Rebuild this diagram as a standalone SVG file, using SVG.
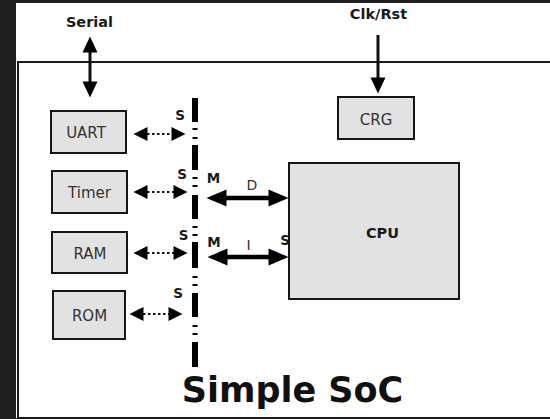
<svg xmlns="http://www.w3.org/2000/svg" width="550" height="419" viewBox="0 0 550 419">
<style>
.box{fill:#e2e2e2;stroke:#151515;stroke-width:2}
.lbl{font-family:"DejaVu Sans",sans-serif;font-size:15px;fill:#333;text-anchor:middle}
.port{font-family:"DejaVu Sans",sans-serif;font-weight:bold;font-size:13.5px;fill:#1a1a1a;text-anchor:middle}
.ext{font-family:"DejaVu Sans",sans-serif;font-weight:bold;font-size:14.5px;fill:#1a1a1a;text-anchor:middle}
.title{font-family:"DejaVu Sans",sans-serif;font-weight:bold;font-size:35px;fill:#111;text-anchor:middle}
.dot{stroke:#111;stroke-width:2;stroke-dasharray:2.5 2.5;fill:none}
.thick{stroke:#000;stroke-width:4.5;fill:none}
.sig{stroke:#111;stroke-width:3;fill:none}
.bus{fill:#000}
</style>
<defs>
<marker id="hd" markerUnits="userSpaceOnUse" markerWidth="15" markerHeight="14" refX="0.5" refY="7" orient="auto-start-reverse" overflow="visible"><path d="M0,0 L14,7 L0,14 z" fill="#000"/></marker>
<marker id="hb" markerUnits="userSpaceOnUse" markerWidth="21" markerHeight="17" refX="0.5" refY="8.5" orient="auto-start-reverse" overflow="visible"><path d="M0,0 L20,8.5 L0,17 z" fill="#000"/></marker>
<marker id="hs" markerUnits="userSpaceOnUse" markerWidth="17" markerHeight="15" refX="0.5" refY="7.5" orient="auto-start-reverse" overflow="visible"><path d="M0,0 L16,7.5 L0,15 z" fill="#000"/></marker>
</defs>
<rect x="0" y="0" width="550" height="419" fill="#1f1f1f"/>
<rect x="16" y="3" width="534" height="415" fill="#fff"/>
<rect id="soc" x="18" y="62" width="540" height="356" fill="none" stroke="#1a1a1a" stroke-width="2"/>

<text class="ext" x="89.5" y="27">Serial</text>
<text class="ext" x="378.5" y="19">Clk/Rst</text>

<g id="bus">
<rect class="bus" x="192" y="98" width="6" height="24"/>
<rect class="bus" x="192.5" y="128" width="5" height="2"/>
<rect class="bus" x="192.5" y="137" width="5" height="2"/>
<rect class="bus" x="192" y="145" width="6" height="25"/>
<rect class="bus" x="192.5" y="177" width="5" height="2"/>
<rect class="bus" x="192.5" y="185" width="5" height="2"/>
<rect class="bus" x="192" y="195" width="6" height="24"/>
<rect class="bus" x="192.5" y="226" width="5" height="2"/>
<rect class="bus" x="192.5" y="234" width="5" height="2"/>
<rect class="bus" x="192" y="242" width="6" height="26"/>
<rect class="bus" x="192.5" y="276" width="5" height="2"/>
<rect class="bus" x="192.5" y="284" width="5" height="2"/>
<rect class="bus" x="192" y="293" width="6" height="24"/>
<rect class="bus" x="192.5" y="325" width="5" height="2"/>
<rect class="bus" x="192.5" y="333" width="5" height="2"/>
<rect class="bus" x="192" y="342" width="6" height="25"/>
</g>

<g id="connectors">
<line class="sig" x1="90" y1="52" x2="90" y2="82" marker-start="url(#hs)" marker-end="url(#hs)"/>
<line class="sig" x1="378" y1="35" x2="378" y2="78" marker-end="url(#hs)"/>
<line class="dot" x1="147" y1="134" x2="172" y2="134" marker-start="url(#hd)" marker-end="url(#hd)"/>
<line class="dot" x1="147" y1="192" x2="174" y2="192" marker-start="url(#hd)" marker-end="url(#hd)"/>
<line class="dot" x1="147" y1="253" x2="174" y2="253" marker-start="url(#hd)" marker-end="url(#hd)"/>
<line class="dot" x1="143" y1="314" x2="169" y2="314" marker-start="url(#hd)" marker-end="url(#hd)"/>
<line class="thick" x1="226" y1="198" x2="269" y2="198" marker-start="url(#hb)" marker-end="url(#hb)"/>
<line class="thick" x1="227" y1="257" x2="269" y2="257" marker-start="url(#hb)" marker-end="url(#hb)"/>
<text class="lbl" x="252" y="190" style="font-size:14px">D</text>
<text class="lbl" x="248.5" y="250" style="font-size:14px">I</text>
</g>

<g id="ports">
<text class="port" x="180" y="120">S</text>
<text class="port" x="182" y="179">S</text>
<text class="port" x="213.5" y="183">M</text>
<text class="port" x="183.5" y="240">S</text>
<text class="port" x="214" y="247">M</text>
<text class="port" x="178" y="298">S</text>
<text class="port" x="285" y="245">S</text>
</g>

<g id="uart"><rect class="box" x="51" y="111" width="75" height="42"/><text class="lbl" x="86" y="138">UART</text></g>
<g id="timer"><rect class="box" x="52" y="171" width="75" height="42"/><text class="lbl" x="89.5" y="198">Timer</text></g>
<g id="ram"><rect class="box" x="52" y="232" width="75" height="41"/><text class="lbl" x="90" y="259">RAM</text></g>
<g id="rom"><rect class="box" x="53" y="291" width="72" height="48"/><text class="lbl" x="89.5" y="321">ROM</text></g>
<g id="crg"><rect class="box" x="338" y="97" width="76" height="42"/><text class="lbl" x="376" y="125">CRG</text></g>
<g id="cpu"><rect class="box" x="289" y="163" width="170" height="136"/><text class="ext" x="382.5" y="238">CPU</text></g>

<text class="title" x="292.5" y="402">Simple SoC</text>
</svg>
